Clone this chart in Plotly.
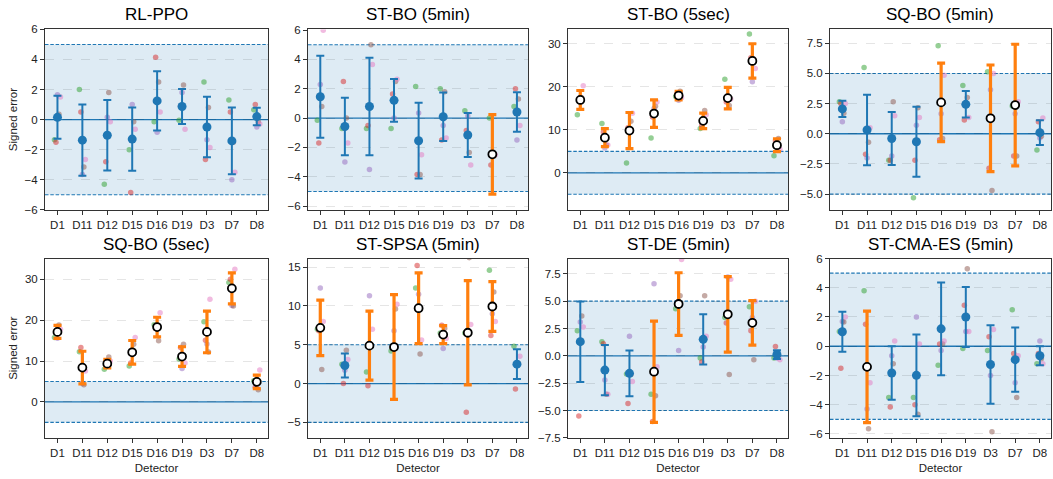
import plotly.graph_objects as go

detectors = ["D1", "D11", "D12", "D15", "D16", "D19", "D3", "D7", "D8"]
titles = ["RL-PPO", "ST-BO (5min)", "ST-BO (5sec)", "SQ-BO (5min)",
          "SQ-BO (5sec)", "ST-SPSA (5min)", "ST-DE (5min)", "ST-CMA-ES (5min)"]
run_colors = ["#2ca02c", "#d62728", "#9467bd", "#8c564b", "#e377c2"]

# ---- RL-PPO
rlppo_mean = [0.15, -1.37, -1.04, -1.3, 1.24, 0.87, -0.49, -1.42, 0.2]
rlppo_err = [1.43, 2.37, 2.35, 2.1, 1.97, 1.17, 2.01, 2.22, 0.58]
rlppo_runs = [  # green, red, purple, brown, pink
    [-1.35, 2.0, -4.3, -2.0, -0.15, -0.05, 2.5, 1.3, 0.65],
    [-1.5, 0.5, -2.8, -4.85, 4.15, 0.9, -2.65, 0.5, 1.0],
    [1.65, -3.65, 0.15, 1.0, -0.85, 1.8, -1.35, -4.0, -0.5],
    [0.35, -3.15, 1.8, -0.15, 2.5, 2.3, 0.8, -1.5, -0.15],
    [1.5, -2.65, -0.15, -0.65, 0.5, -0.65, -1.85, -3.5, -0.3],
]
# ---- ST-BO (5min)
stbo5m_mean = [1.46, -0.57, 0.79, 1.21, -1.54, 0.09, -1.15, -2.47, 0.42]
stbo5m_err = [2.8, 1.96, 3.33, 1.45, 2.58, 1.65, 1.5, 2.71, 1.35]
stbo5m_runs = [
    [-0.15, -0.7, -0.7, -0.7, 2.15, 2.0, 0.5, 0.0, 0.8],
    [-1.7, 2.5, -0.5, 1.65, -3.85, -1.5, -0.85, -3.2, 2.0],
    [2.3, -3.0, -3.5, 0.0, 0.35, -0.5, 0.15, -2.4, -1.5],
    [0.8, 0.0, 5.0, 2.5, -3.85, 1.8, -2.35, -2.6, 1.3],
    [6.0, -1.7, 3.65, 2.65, -2.5, -1.35, -3.2, -2.5, -0.5],
]
# ---- ST-BO (5sec)
stbo5s_mean = [16.97, 8.18, 9.85, 13.8, 18.0, 12.1, 17.4, 26.06, 6.44]
stbo5s_err = [2.2, 2.1, 4.2, 3.2, 1.0, 1.8, 2.5, 4.0, 1.5]
stbo5s_runs = [
    [13.5, 11.5, 2.3, 8.1, 17.8, 10.3, 21.8, 32.3, 4.0],
    [17.2, 9.5, 10.5, 13.0, 18.5, 11.0, 16.5, 26.8, 7.5],
    [16.5, 5.8, 10.0, 15.0, 16.9, 12.0, 17.5, 21.2, 6.0],
    [17.5, 6.5, 12.0, 15.5, 19.0, 14.5, 15.7, 26.5, 8.0],
    [20.3, 6.5, 13.9, 16.5, 17.5, 13.5, 17.2, 24.3, 5.5],
]
# ---- SQ-BO (5min)
sqbo5m_mean = [2.06, 0.31, -0.39, -0.66, 2.6, 2.44, 1.28, 2.38, 0.09]
sqbo5m_err = [0.68, 2.93, 2.2, 2.9, 3.26, 1.1, 4.42, 5.04, 1.03]
sqbo5m_runs = [
    [2.65, 5.5, -2.2, -5.3, 7.3, 4.0, 5.15, 2.3, -1.35],
    [2.5, -1.7, -2.2, -2.2, -0.5, 1.15, -2.85, -1.85, 1.0],
    [1.0, -2.0, -1.85, 0.7, 1.65, 2.5, 3.65, 1.65, -0.35],
    [1.7, -0.7, 2.65, 2.15, -0.4, 3.0, -4.7, -1.85, -0.2],
    [2.5, 0.5, 1.5, 1.35, 4.85, 1.35, 5.0, 2.65, 1.3],
]
# ---- SQ-BO (5sec)
sqbo5s_mean = [17.14, 8.4, 9.37, 12.14, 18.33, 11.1, 17.14, 27.8, 4.92]
sqbo5s_err = [1.6, 4.0, 1.05, 2.9, 2.4, 2.4, 5.1, 3.8, 1.65]
sqbo5s_runs = [
    [15.8, 12.3, 8.0, 8.8, 18.9, 10.5, 19.6, 29.2, 5.2],
    [17.3, 13.3, 9.5, 9.5, 18.0, 13.3, 15.1, 30.0, 3.6],
    [15.6, 4.5, 9.0, 12.5, 18.5, 8.2, 14.2, 23.6, 4.0],
    [18.8, 4.2, 11.0, 14.1, 15.0, 14.1, 12.2, 23.5, 3.0],
    [17.8, 7.6, 10.0, 15.8, 21.8, 9.5, 25.1, 32.5, 7.8],
]
# ---- ST-SPSA (5min)
stspsa_mean = [7.17, 2.33, 4.88, 4.7, 9.7, 6.3, 6.54, 9.92, 2.5]
stspsa_err = [3.58, 1.55, 4.45, 6.75, 4.55, 1.15, 6.7, 3.2, 1.92]
stspsa_runs = [
    [7.0, 2.5, 1.5, 4.2, 12.3, 6.5, 6.5, 14.6, 4.8],
    [6.8, 0.0, -0.3, 4.5, 15.2, 7.5, -3.7, 6.2, -0.7],
    [12.3, 1.7, 11.3, 6.8, 11.5, 4.5, 6.3, 9.0, 2.5],
    [1.8, 4.3, 5.0, 9.6, 3.8, 7.1, 16.2, 11.8, 2.6],
    [8.0, 3.1, 7.0, 10.2, 5.6, 5.8, 7.6, 8.0, 3.5],
]
# ---- ST-DE (5min)
stde_mean = [1.3, -1.3, -1.6, -1.45, 4.74, 1.51, 3.8, 3.02, 0.12]
stde_err = [3.68, 2.3, 2.1, 4.63, 2.86, 2.3, 3.45, 2.03, 0.4]
stde_runs = [
    [2.3, 1.3, -1.65, -3.5, 4.3, -0.2, 3.5, 4.5, -0.2],
    [-5.5, 1.1, -4.35, -6.0, 4.7, -0.55, 3.0, 2.3, 0.85],
    [3.1, -2.2, 1.8, 6.6, 0.5, 0.8, 7.2, 3.5, -0.2],
    [3.65, -3.5, -1.7, -3.65, 5.5, 5.5, -1.7, -0.35, 0.0],
    [2.65, -3.5, -2.35, -1.0, 8.8, 1.8, 7.0, 5.0, -0.35],
]
# ---- ST-CMA-ES (5min)
stcma_mean = [0.99, -1.41, -1.83, -1.99, 1.19, 2.0, -1.25, -0.92, -0.65]
stcma_err = [1.37, 3.81, 1.83, 2.8, 3.17, 2.05, 2.68, 2.2, 0.65]
stcma_runs = [
    [1.0, 3.8, -3.5, -3.5, -1.3, -0.15, -0.3, 2.5, -1.2],
    [-1.5, 1.5, -4.15, -4.0, 0.15, 2.8, 0.65, -0.5, -0.5],
    [1.7, -4.3, -0.65, 2.0, -0.3, 1.0, -2.0, -2.5, 0.35],
    [1.65, -5.65, -1.2, -4.65, 0.15, 5.3, -5.85, -3.5, -0.85],
    [2.0, -2.5, 0.35, 0.15, 0.35, 1.0, 1.15, -0.65, -1.2],
]

y_ranges = [[-6, 6], [-6.25, 6.05], [-8.6, 33.4], [-6.3, 8.65],
            [-8.8, 35.1], [-7, 16.1], [-7.5, 8.9], [-6.27, 6.0]]
y_dticks = [2, 2, 10, 2.5, 10, 5, 2.5, 2]
y_formats = ["d", "d", "d", ".1f", "d", "d", ".1f", "d"]
tolerance = 5

panels = [
    (rlppo_mean, rlppo_err, rlppo_runs),
    (stbo5m_mean, stbo5m_err, stbo5m_runs),
    (stbo5s_mean, stbo5s_err, stbo5s_runs),
    (sqbo5m_mean, sqbo5m_err, sqbo5m_runs),
    (sqbo5s_mean, sqbo5s_err, sqbo5s_runs),
    (stspsa_mean, stspsa_err, stspsa_runs),
    (stde_mean, stde_err, stde_runs),
    (stcma_mean, stcma_err, stcma_runs),
]

W, H = 1053, 479
col_px = [(45, 268), (308, 528), (568, 788), (830, 1051)]
row_px = [(24, 209), (259, 443)]
run_offsets = [-0.12, -0.06, 0.0, 0.06, 0.12]

BLUE = "#1f77b4"
ORANGE = "#ff7f0e"
FONT = "Liberation Sans, Arial, sans-serif"
AXCOL = "#333"

fig = go.Figure()
layout = {}
annotations = []
shapes = []
xpos = list(range(len(detectors)))

for i, (mean, err, runs) in enumerate(panels):
    r, c = divmod(i, 4)
    n = i + 1
    xa = "x" if n == 1 else f"x{n}"
    ya = "y" if n == 1 else f"y{n}"
    xk = "xaxis" if n == 1 else f"xaxis{n}"
    yk = "yaxis" if n == 1 else f"yaxis{n}"
    x0, x1 = col_px[c]
    t0, t1 = row_px[r]
    xd = [x0 / W, x1 / W]
    yd = [1 - t1 / H, 1 - t0 / H]

    # individual runs
    for k, vals in enumerate(runs):
        fig.add_trace(go.Scatter(
            x=[p + run_offsets[k] for p in xpos], y=vals, mode="markers",
            marker=dict(color=run_colors[k], size=5.5, opacity=0.5, line=dict(width=0)),
            xaxis=xa, yaxis=ya, showlegend=False, hoverinfo="skip", cliponaxis=True))

    inside = [(m + e <= tolerance) and (m - e >= -tolerance) for m, e in zip(mean, err)]
    bx = [p for p, ok in zip(xpos, inside) if ok]
    by = [m for m, ok in zip(mean, inside) if ok]
    be = [e for e, ok in zip(err, inside) if ok]
    ox = [p for p, ok in zip(xpos, inside) if not ok]
    oy = [m for m, ok in zip(mean, inside) if not ok]
    oe = [e for e, ok in zip(err, inside) if not ok]
    if bx:
        fig.add_trace(go.Scatter(
            x=bx, y=by, mode="markers",
            marker=dict(color=BLUE, size=9, line=dict(width=0)),
            error_y=dict(type="data", array=be, color=BLUE, thickness=2, width=4),
            xaxis=xa, yaxis=ya, showlegend=False))
    if ox:
        fig.add_trace(go.Scatter(
            x=ox, y=oy, mode="markers",
            marker=dict(color="white", size=8, line=dict(width=1.8, color="black")),
            error_y=dict(type="data", array=oe, color=ORANGE, thickness=3.2, width=4),
            xaxis=xa, yaxis=ya, showlegend=False))

    layout[xk] = dict(
        domain=xd, anchor=ya, range=[-0.5, 8.45], tickmode="array",
        tickvals=xpos, ticktext=detectors, showgrid=False, zeroline=False,
        showline=True, mirror=True, linecolor=AXCOL, linewidth=1,
        ticks="outside", ticklen=4, tickcolor=AXCOL,
        tickfont=dict(size=11.5, color="#222", family=FONT),
        title=dict(text="Detector" if r == 1 else "", font=dict(size=11.5, color="#222", family=FONT), standoff=6),
    )
    layout[yk] = dict(
        domain=yd, anchor=xa, range=y_ranges[i], dtick=y_dticks[i], tick0=0,
        tickformat=y_formats[i], showgrid=True, gridcolor="rgba(0,0,0,0.1)",
        griddash="dash", gridwidth=1, zeroline=False,
        showline=True, mirror=True, linecolor=AXCOL, linewidth=1,
        ticks="outside", ticklen=4, tickcolor=AXCOL,
        tickfont=dict(size=11.5, color="#222", family=FONT),
        title=dict(text="Signed error" if c == 0 else "", font=dict(size=11.5, color="#222", family=FONT), standoff=4),
    )

    xref_dom = f"{xa} domain"
    shapes.append(dict(type="rect", xref=xref_dom, yref=ya, x0=0, x1=1, y0=-tolerance, y1=tolerance,
                       fillcolor="rgba(31,119,180,0.15)", line=dict(width=0), layer="below"))
    for yv, dash, w in [(tolerance, "3.5px,1.8px", 1.1), (-tolerance, "3.5px,1.8px", 1.1), (0, "solid", 1.3)]:
        shapes.append(dict(type="line", xref=xref_dom, yref=ya, x0=0, x1=1, y0=yv, y1=yv,
                           line=dict(color=BLUE, width=w, dash=dash), layer="below"))

    annotations.append(dict(text=titles[i], xref="paper", yref="paper",
                            x=(xd[0] + xd[1]) / 2, y=yd[1], yshift=3,
                            xanchor="center", yanchor="bottom", showarrow=False,
                            font=dict(size=17, color="black", family=FONT)))

fig.update_layout(
    width=W, height=H, margin=dict(l=0, r=0, t=0, b=0),
    paper_bgcolor="white", plot_bgcolor="white",
    annotations=annotations, shapes=shapes, showlegend=False,
    font=dict(family=FONT), **layout)

fig.write_html("out.html", config={"displayModeBar": False})
